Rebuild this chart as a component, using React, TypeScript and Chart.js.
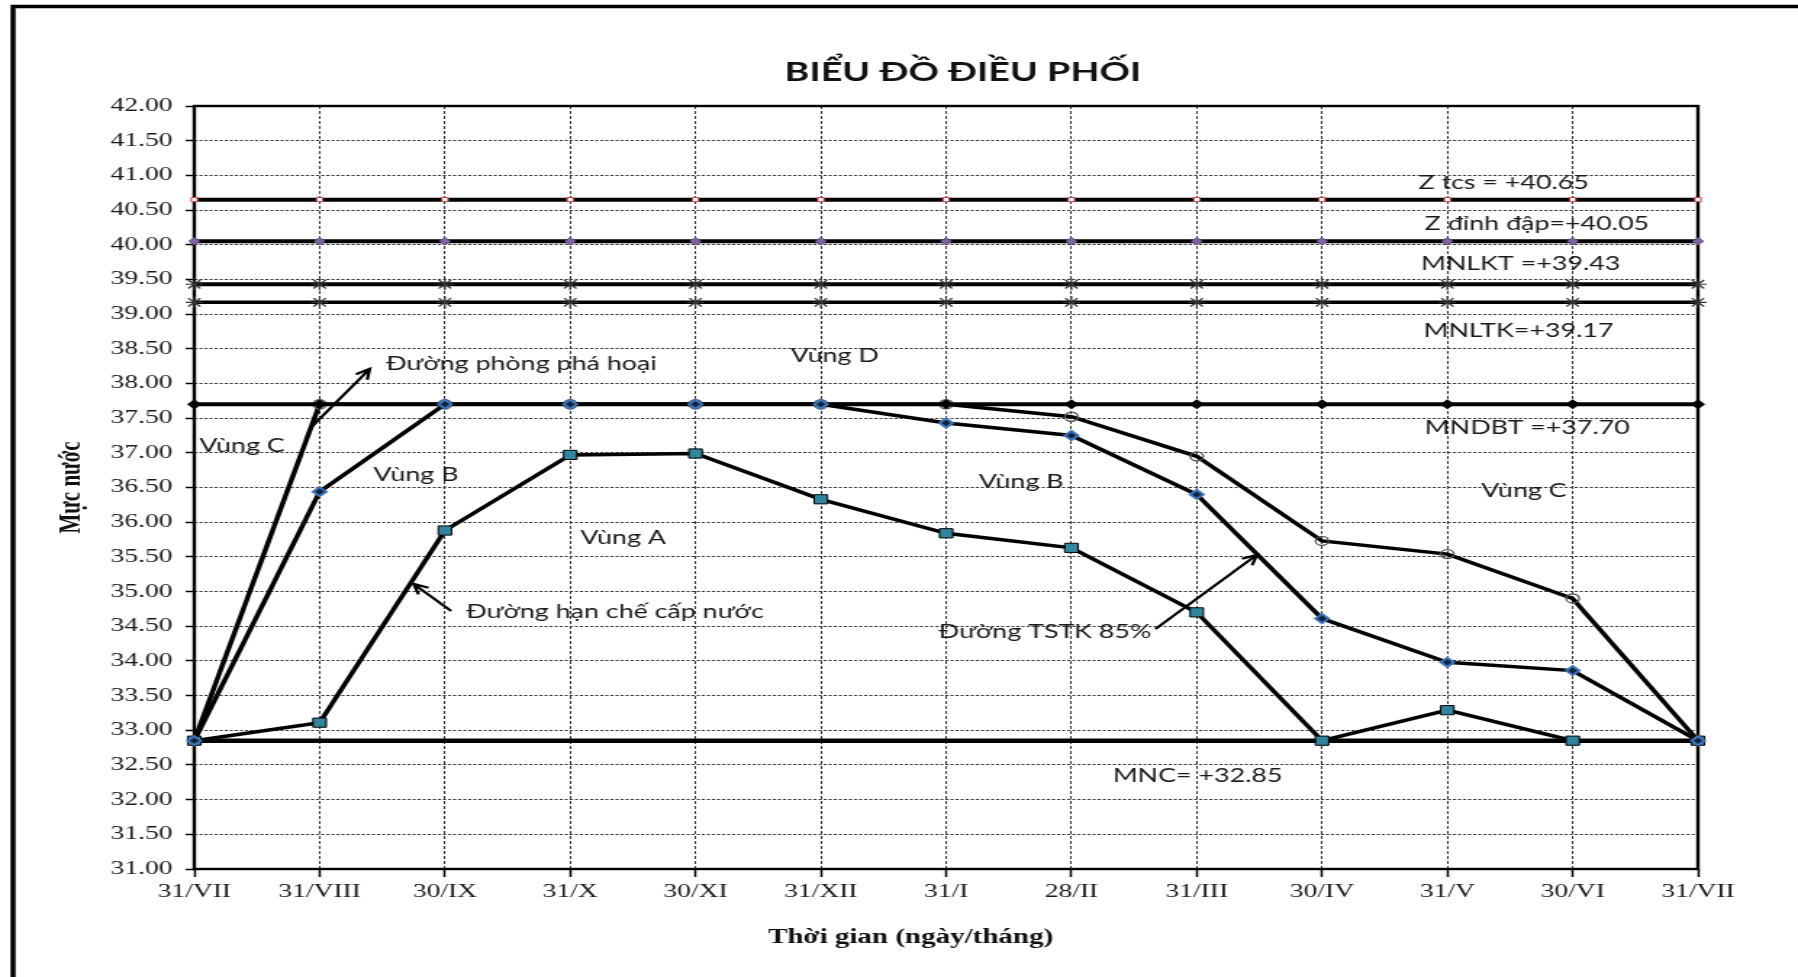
import React, { useEffect, useRef } from "react";
import { Chart, registerables } from "chart.js";

Chart.register(...registerables);

// ---------- data ----------
const categories = ["31/VII", "31/VIII", "30/IX", "31/X", "30/XI", "31/XII", "31/I", "28/II", "31/III", "30/IV", "31/V", "30/VI", "31/VII"];

const zTcsLevel = [40.65, 40.65, 40.65, 40.65, 40.65, 40.65, 40.65, 40.65, 40.65, 40.65, 40.65, 40.65, 40.65];
const zDinhDapLevel = [40.05, 40.05, 40.05, 40.05, 40.05, 40.05, 40.05, 40.05, 40.05, 40.05, 40.05, 40.05, 40.05];
const mnlktLevel = [39.43, 39.43, 39.43, 39.43, 39.43, 39.43, 39.43, 39.43, 39.43, 39.43, 39.43, 39.43, 39.43];
const mnltkLevel = [39.17, 39.17, 39.17, 39.17, 39.17, 39.17, 39.17, 39.17, 39.17, 39.17, 39.17, 39.17, 39.17];
const mndbtLevel = [37.7, 37.7, 37.7, 37.7, 37.7, 37.7, 37.7, 37.7, 37.7, 37.7, 37.7, 37.7, 37.7];
const mncLevel = [32.85, 32.85, 32.85, 32.85, 32.85, 32.85, 32.85, 32.85, 32.85, 32.85, 32.85, 32.85, 32.85];

const phongPhaHoai = [32.85, 37.7, 37.7, 37.7, 37.7, 37.7, 37.7, 37.52, 36.95, 35.73, 35.54, 34.9, 32.85];
const tstk85 = [32.85, 36.44, 37.7, 37.7, 37.7, 37.7, 37.43, 37.25, 36.4, 34.61, 33.98, 33.86, 32.85];
const hanCheCapNuoc = [32.85, 33.11, 35.88, 36.97, 36.99, 36.33, 35.84, 35.63, 34.7, 32.85, 33.29, 32.85, 32.85];

const yMin = 31;
const yMax = 42;
const yStep = 0.5;

const chartTitle = "BIỂU ĐỒ ĐIỀU PHỐI";
const xAxisTitle = "Thời gian (ngày/tháng)";
const yAxisTitle = "Mực nước";

// text annotations: [text, category position, value]
const noteTexts: [string, number, number][] = [
  ["Z tcs = +40.65", 9.77, 40.9],
  ["Z đỉnh đập=+40.05", 9.82, 40.32],
  ["MNLKT =+39.43", 9.79, 39.73],
  ["MNLTK=+39.17", 9.81, 38.77],
  ["Vùng D", 4.76, 38.41],
  ["MNDBT =+37.70", 9.82, 37.37],
  ["Vùng B", 6.26, 36.6],
  ["Vùng C", 10.27, 36.46],
  ["Vùng C", 0.04, 37.11],
  ["Vùng B", 1.43, 36.7],
  ["Đường phòng phá hoại", 1.53, 38.29],
  ["Vùng A", 3.08, 35.79],
  ["Đường hạn chế cấp nước", 2.17, 34.72],
  ["Đường TSTK 85%", 5.94, 34.43],
  ["MNC= +32.85", 7.33, 32.36],
];

// arrows: [fromX, fromY, toX, toY] in category / value units
const noteArrows: [number, number, number, number][] = [
  [0.94, 37.38, 1.4, 38.21],
  [2.05, 34.72, 1.75, 35.11],
  [7.67, 34.46, 8.48, 35.53],
];

// ---------- layout ----------
const STRETCH = 1.45;
const W = Math.round(1798 / STRETCH);
const H = 977;
const PLOT_BOTTOM = 869;

const SERIF = "'Liberation Serif', 'Times New Roman', serif";
const SANS = "Lato, 'Open Sans', sans-serif";

const annotationPlugin = {
  id: "dieuPhoiNotes",
  beforeDraw(chart: any) {
    const ctx = chart.ctx;
    ctx.save();
    ctx.fillStyle = "#ffffff";
    ctx.fillRect(0, 0, chart.width, chart.height);
    ctx.strokeStyle = "#000";
    ctx.lineWidth = 3.5;
    ctx.beginPath();
    ctx.moveTo(9, chart.height + 10);
    ctx.lineTo(9, 6.5);
    ctx.lineTo(chart.width + 10, 6.5);
    ctx.stroke();
    ctx.restore();
  },
  beforeDatasetsDraw(chart: any) {
    const { ctx, chartArea } = chart;
    ctx.save();
    ctx.strokeStyle = "#000";
    ctx.lineWidth = 2.4;
    ctx.strokeRect(chartArea.left, chartArea.top, chartArea.right - chartArea.left, chartArea.bottom - chartArea.top);
    ctx.restore();
  },
  afterDraw(chart: any) {
    const { ctx } = chart;
    const xs = chart.scales.x;
    const ys = chart.scales.y;
    ctx.save();
    ctx.fillStyle = "#111";
    ctx.font = `bold 26px ${SANS}`;
    ctx.textAlign = "center";
    ctx.textBaseline = "alphabetic";
    ctx.fillText(chartTitle, 664, 81);
    ctx.font = `bold 20px ${SERIF}`;
    ctx.fillText(xAxisTitle, 628, 943);
    ctx.font = `18.5px ${SANS}`;
    ctx.textAlign = "left";
    ctx.fillStyle = "#1a1a1a";
    for (const [t, cx, v] of noteTexts) {
      const px = xs.getPixelForValue(cx);
      const py = ys.getPixelForValue(v);
      ctx.fillText(t, px, py + 7);
    }
    ctx.strokeStyle = "#000";
    ctx.lineWidth = 2.2;
    for (const [x1, y1, x2, y2] of noteArrows) {
      const ax = xs.getPixelForValue(x1);
      const ay = ys.getPixelForValue(y1);
      const bx = xs.getPixelForValue(x2);
      const by = ys.getPixelForValue(y2);
      const ang = Math.atan2(by - ay, bx - ax);
      const L = 11;
      const spread = 0.45;
      ctx.beginPath();
      ctx.moveTo(ax, ay);
      ctx.lineTo(bx, by);
      ctx.moveTo(bx - L * Math.cos(ang - spread), by - L * Math.sin(ang - spread));
      ctx.lineTo(bx, by);
      ctx.lineTo(bx - L * Math.cos(ang + spread), by - L * Math.sin(ang + spread));
      ctx.stroke();
    }
    ctx.restore();
  },
};

function levelDataset(label: string, data: number[], extra: any) {
  return {
    label,
    data,
    borderColor: "#000",
    borderWidth: 4,
    tension: 0,
    clip: false,
    ...extra,
  };
}

export default function App() {
  const canvasRef = useRef<HTMLCanvasElement | null>(null);

  useEffect(() => {
    if (!canvasRef.current) return;
    const chart = new Chart(canvasRef.current, {
      type: "line",
      data: {
        labels: categories,
        datasets: [
          levelDataset("Đường TSTK 85%", tstk85, {
            borderWidth: 3.5,
            pointStyle: "rectRot",
            pointRadius: 4.5,
            pointBackgroundColor: "#10233f",
            pointBorderColor: "#3f74b8",
            pointBorderWidth: 2,
          }),
          levelDataset("Đường hạn chế cấp nước", hanCheCapNuoc, {
            borderWidth: 3.5,
            pointStyle: "rect",
            pointRadius: 6.5,
            pointBackgroundColor: "#31859c",
            pointBorderColor: "#000",
            pointBorderWidth: 1,
          }),
          levelDataset("MNDBT", mndbtLevel, {
            pointStyle: "rectRot",
            pointRadius: 4.5,
            pointBackgroundColor: "#000",
            pointBorderColor: "#000",
            pointBorderWidth: 1,
          }),
          levelDataset("Đường phòng phá hoại", phongPhaHoai, {
            borderWidth: 3.5,
            pointStyle: "circle",
            pointRadius: 4.5,
            pointBackgroundColor: "rgba(0,0,0,0)",
            pointBorderColor: "#555",
            pointBorderWidth: 1.3,
          }),
          levelDataset("MNC", mncLevel, { borderWidth: 4.5, pointRadius: 0 }),
          levelDataset("MNLTK", mnltkLevel, {
            borderWidth: 3.5,
            pointStyle: "star",
            pointRadius: 6,
            pointBorderColor: "#333",
            pointBorderWidth: 1.2,
          }),
          levelDataset("MNLKT", mnlktLevel, {
            borderWidth: 4,
            pointStyle: "star",
            pointRadius: 6,
            pointBorderColor: "#333",
            pointBorderWidth: 1.2,
          }),
          levelDataset("Z đỉnh đập", zDinhDapLevel, {
            pointStyle: "rectRot",
            pointRadius: 3.8,
            pointBackgroundColor: "#8064a2",
            pointBorderColor: "#5f4a7e",
            pointBorderWidth: 1,
          }),
          levelDataset("Z tcs", zTcsLevel, {
            pointStyle: "rect",
            pointRadius: 3,
            pointBackgroundColor: "#ffffff",
            pointBorderColor: "#d04040",
            pointBorderWidth: 1,
          }),
        ],
      },
      options: {
        animation: false,
        responsive: true,
        maintainAspectRatio: false,
        layout: { padding: { left: 0, right: W - 1171, top: 106, bottom: 0 } },
        plugins: {
          legend: { display: false },
          title: { display: false },
          tooltip: { enabled: false },
        },
        scales: {
          x: {
            type: "category",
            offset: false,
            afterFit: (scale: any) => {
              scale.height = H - PLOT_BOTTOM;
            },
            grid: {
              color: "#333",
              lineWidth: 1,
              drawTicks: true,
              tickLength: 8,
              tickColor: "#000",
              tickWidth: 1.5,
              tickBorderDash: [],
            },
            border: { display: false, dash: [3, 2] },
            ticks: {
              autoSkip: false,
              maxRotation: 0,
              minRotation: 0,
              padding: 4,
              color: "#1a1a1a",
              font: { family: SERIF, size: 19 },
            },
          },
          y: {
            min: yMin,
            max: yMax,
            afterFit: (scale: any) => {
              scale.width = 134;
            },
            grid: {
              color: "#333",
              lineWidth: 1,
              drawTicks: true,
              tickLength: 6,
              tickColor: "#000",
              tickWidth: 1.5,
              tickBorderDash: [],
            },
            border: { display: false, dash: [2.1, 1.4] },
            ticks: {
              stepSize: yStep,
              padding: 9,
              color: "#1a1a1a",
              font: { family: SERIF, size: 19 },
              callback: (v: any) => Number(v).toFixed(2),
            },
            title: {
              display: true,
              text: yAxisTitle,
              color: "#111",
              font: { family: SERIF, size: 21, weight: "bold" },
              padding: { top: 37, bottom: 0 },
            },
          },
        },
      },
      plugins: [annotationPlugin],
    } as any);
    return () => chart.destroy();
  }, []);

  return (
    <div
      style={{
        position: "fixed",
        left: 0,
        top: 0,
        width: 1798,
        height: 977,
        overflow: "hidden",
        background: "#ffffff",
      }}
    >
      <div
        style={{
          position: "relative",
          width: W,
          height: H,
          transform: `scaleX(${STRETCH})`,
          transformOrigin: "0 0",
        }}
      >
        <canvas ref={canvasRef} style={{ display: "block" }} />
      </div>
    </div>
  );
}
